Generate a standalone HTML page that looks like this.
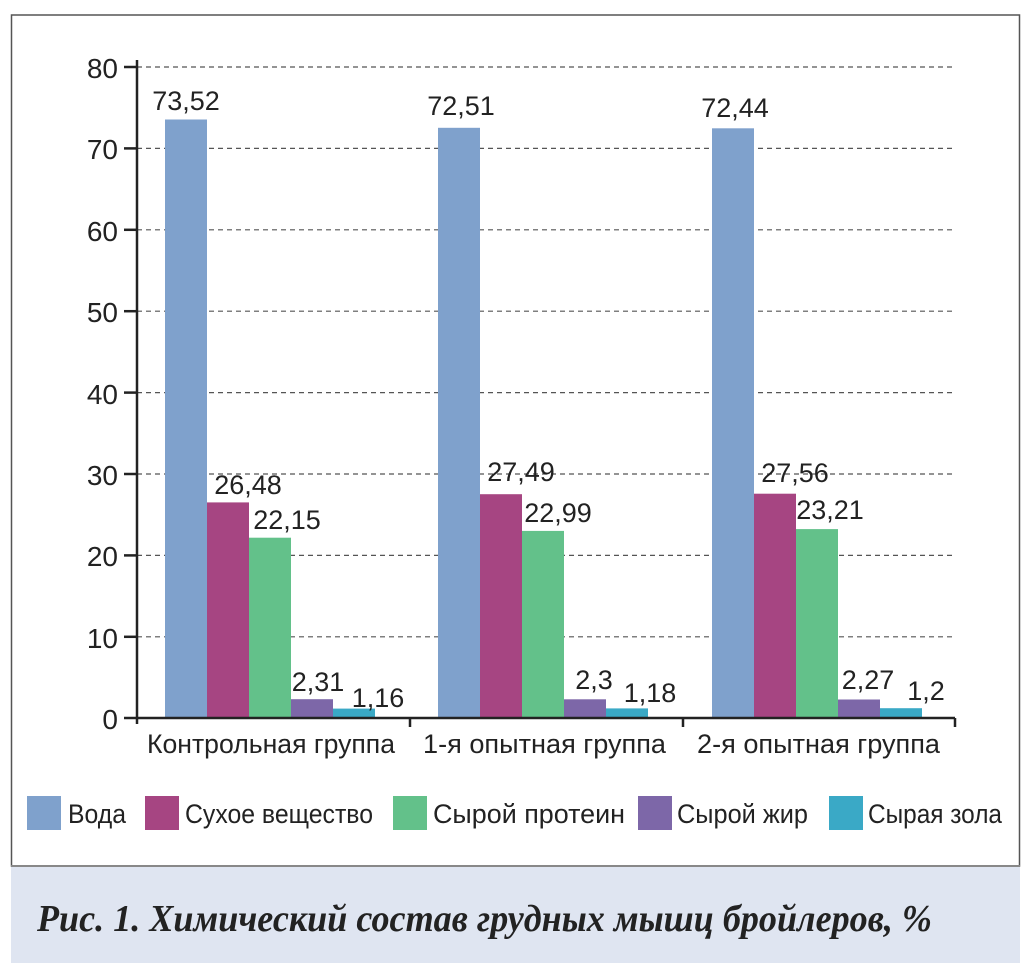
<!DOCTYPE html>
<html><head><meta charset="utf-8"><style>
body{margin:0;background:#fff;}
svg{display:block;font-family:"Liberation Sans",sans-serif;}
</style></head><body>
<svg width="1033" height="977" viewBox="0 0 1033 977" xmlns="http://www.w3.org/2000/svg">
<rect x="0" y="0" width="1033" height="977" fill="#fff"/>
<rect x="11" y="866" width="1009" height="97" fill="#dfe5f1"/>
<rect x="11.5" y="15" width="1008" height="851" fill="none" stroke="#555" stroke-width="1.5"/>
<line x1="11" y1="866" x2="1020" y2="866" stroke="#888" stroke-width="2"/>
<g stroke="#555" stroke-width="1.2" stroke-dasharray="5,4">
<line x1="137" y1="67" x2="955" y2="67"/>
<line x1="137" y1="148.4" x2="955" y2="148.4"/>
<line x1="137" y1="229.8" x2="955" y2="229.8"/>
<line x1="137" y1="311.2" x2="955" y2="311.2"/>
<line x1="137" y1="392.6" x2="955" y2="392.6"/>
<line x1="137" y1="474" x2="955" y2="474"/>
<line x1="137" y1="555.4" x2="955" y2="555.4"/>
<line x1="137" y1="636.8" x2="955" y2="636.8"/>
</g>
<g>
<rect x="165" y="119.5" width="42" height="598.5" fill="#7fa1cc"/>
<rect x="207" y="502.4" width="42" height="215.6" fill="#a64582"/>
<rect x="249" y="537.7" width="42" height="180.3" fill="#63c18a"/>
<rect x="291" y="699.2" width="42" height="18.8" fill="#7d67a8"/>
<rect x="333" y="708.6" width="42" height="9.4" fill="#3aa9c6"/>
<rect x="438" y="127.8" width="42" height="590.2" fill="#7fa1cc"/>
<rect x="480" y="494.2" width="42" height="223.8" fill="#a64582"/>
<rect x="522" y="530.9" width="42" height="187.1" fill="#63c18a"/>
<rect x="564" y="699.3" width="42" height="18.7" fill="#7d67a8"/>
<rect x="606" y="708.4" width="42" height="9.6" fill="#3aa9c6"/>
<rect x="712" y="128.3" width="42" height="589.7" fill="#7fa1cc"/>
<rect x="754" y="493.7" width="42" height="224.3" fill="#a64582"/>
<rect x="796" y="529.1" width="42" height="188.9" fill="#63c18a"/>
<rect x="838" y="699.5" width="42" height="18.5" fill="#7d67a8"/>
<rect x="880" y="708.2" width="42" height="9.8" fill="#3aa9c6"/>
</g>
<g stroke="#222" stroke-width="2.5" fill="none">
<line x1="137" y1="60" x2="137" y2="724"/>
<line x1="124" y1="718" x2="955" y2="718"/>
<line x1="410" y1="718" x2="410" y2="727"/>
<line x1="683" y1="718" x2="683" y2="727"/>
<line x1="955" y1="718" x2="955" y2="727"/>
<line x1="124" y1="67" x2="137" y2="67"/>
<line x1="124" y1="148.4" x2="137" y2="148.4"/>
<line x1="124" y1="229.8" x2="137" y2="229.8"/>
<line x1="124" y1="311.2" x2="137" y2="311.2"/>
<line x1="124" y1="392.6" x2="137" y2="392.6"/>
<line x1="124" y1="474" x2="137" y2="474"/>
<line x1="124" y1="555.4" x2="137" y2="555.4"/>
<line x1="124" y1="636.8" x2="137" y2="636.8"/>
</g>
<g font-size="28" fill="#222" text-anchor="end">
<text x="118" y="78">80</text><text x="118" y="159">70</text><text x="118" y="241">60</text>
<text x="118" y="322">50</text><text x="118" y="404">40</text><text x="118" y="485">30</text>
<text x="118" y="566">20</text><text x="118" y="648">10</text><text x="118" y="729">0</text>
</g>
<g font-size="27" fill="#222" text-anchor="middle">
<text x="186" y="110">73,52</text><text x="248" y="494">26,48</text><text x="287" y="529">22,15</text>
<text x="318" y="691">2,31</text><text x="378" y="707">1,16</text>
<text x="461" y="115">72,51</text><text x="521" y="481">27,49</text><text x="558" y="522">22,99</text>
<text x="594" y="689">2,3</text><text x="650" y="702">1,18</text>
<text x="735" y="117">72,44</text><text x="795" y="482">27,56</text><text x="830" y="519">23,21</text>
<text x="868" y="689">2,27</text><text x="926" y="700">1,2</text>
</g>
<g font-size="27" fill="#222">
<text x="147" y="753" textLength="248" lengthAdjust="spacingAndGlyphs">Контрольная группа</text>
<text x="423" y="753" textLength="243" lengthAdjust="spacingAndGlyphs">1-я опытная группа</text>
<text x="697" y="753" textLength="243" lengthAdjust="spacingAndGlyphs">2-я опытная группа</text>
</g>
<rect x="27" y="796" width="34" height="34" fill="#7fa1cc"/>
<rect x="145" y="796" width="34" height="34" fill="#a64582"/>
<rect x="393" y="796" width="34" height="34" fill="#63c18a"/>
<rect x="638" y="796" width="34" height="34" fill="#7d67a8"/>
<rect x="829" y="796" width="34" height="34" fill="#3aa9c6"/>
<g font-size="27" fill="#222">
<text x="68" y="823" textLength="58" lengthAdjust="spacingAndGlyphs">Вода</text>
<text x="185" y="823" textLength="188" lengthAdjust="spacingAndGlyphs">Сухое вещество</text>
<text x="433" y="823" textLength="192" lengthAdjust="spacingAndGlyphs">Сырой протеин</text>
<text x="677" y="823" textLength="131" lengthAdjust="spacingAndGlyphs">Сырой жир</text>
<text x="868" y="823" textLength="134" lengthAdjust="spacingAndGlyphs">Сырая зола</text>
</g>
<text x="37" y="931" font-family="'Liberation Serif',serif" font-weight="bold" font-style="italic" font-size="38" fill="#222" textLength="895" lengthAdjust="spacingAndGlyphs">Рис. 1. Химический состав грудных мышц бройлеров, %</text>
</svg>
</body></html>
